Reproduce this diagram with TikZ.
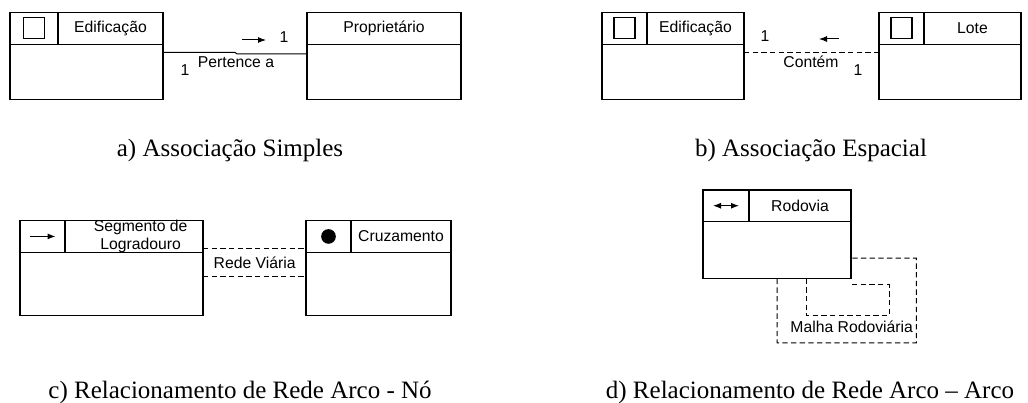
\documentclass[tikz,border=0pt]{standalone}
\usepackage{fontspec}
\setmainfont{Liberation Serif}
\newfontfamily\arialfont{Liberation Sans}
\usetikzlibrary{arrows.meta,positioning}

\begin{document}
\begin{tikzpicture}
  [x=0.75pt,y=-0.75pt,>={Latex[length=6pt,width=4.5pt]},
   every node/.style={font=\arialfont\fontsize{11.8}{13.7}\selectfont},
   cell/.style={draw,line width=0.8pt,inner sep=0pt,outer sep=0pt},
   hdr/.style={cell,minimum height=23.6pt},
   sym/.style={draw,line width=0.8pt,minimum size=15.75pt,inner sep=0pt},
   assoc/.style={line width=0.75pt},
   spatial/.style={assoc,dash pattern=on 4pt off 2.5pt},
   lbl/.style={inner sep=0pt},
   caption/.style={font=\rmfamily\fontsize{18.75}{20}\selectfont,anchor=base}]

  \useasboundingbox (0,0) rectangle (1028,403);

  % a) simple association
  \node [hdr,minimum width=36pt,anchor=north west] (a1i) at (10,12.7) {};
  \node [hdr,minimum width=78.75pt,right=0pt of a1i] (a1n) {Edificação};
  \node [cell,minimum width=114.75pt,minimum height=41.25pt,anchor=north west]
        (a1b) at (a1i.south west) {};
  \node [sym] (a1s) at (a1i) {};

  \node [hdr,minimum width=115.5pt,anchor=north west] (a2n) at (307,12.7) {Proprietário};
  \node [cell,minimum width=115.5pt,minimum height=41.25pt,below=0pt of a2n] (a2b) {};

  \draw [assoc] ([yshift=-6.2pt]a1b.north east) -- ++(72,0) -- ++(2,1.5)
    -- ([yshift=-7.35pt]a2b.north west);
  \node [lbl] (a1m) at (185,70) {1};
  \node [lbl] (a2m) at (284,37) {1};
  \node [lbl] (a1r) at (236,62) {Pertence a};
  \draw [->,assoc] (242,40) -- (266,40);

  % b) spatial association
  \node [hdr,minimum width=33.75pt,anchor=north west] (b1i) at (602,12.7) {};
  \node [hdr,minimum width=72.75pt,right=0pt of b1i] (b1n) {Edificação};
  \node [cell,minimum width=106.5pt,minimum height=41.25pt,anchor=north west]
        (b1b) at (b1i.south west) {};
  \node [sym] (b1s) at (b1i) {};

  \node [hdr,minimum width=33.75pt,anchor=north west] (b2i) at (879,12.7) {};
  \node [hdr,minimum width=72.75pt,right=0pt of b2i] (b2n) {Lote};
  \node [cell,minimum width=106.5pt,minimum height=41.25pt,anchor=north west]
        (b2b) at (b2i.south west) {};
  \node [sym] (b2s) at (b2i) {};

  \draw [spatial] ([yshift=-6.2pt]b1b.north east) -- ([yshift=-6.2pt]b2b.north west);
  \node [lbl] (b1m) at (765,36) {1};
  \node [lbl] (b2m) at (858,70) {1};
  \node [lbl] (b1r) at (811,62) {Contém};
  \draw [<-,assoc] (819,39) -- (839,39);

  % c) arc - node network
  \node [hdr,minimum width=33.75pt,anchor=north west] (c1i) at (20,220.7) {};
  \node [hdr,minimum width=103.5pt,right=0pt of c1i,
         label={[lbl,align=center,xshift=5pt]center:Segmento de\\Logradouro}] (c1n) {};
  \node [cell,minimum width=137.25pt,minimum height=47.5pt,anchor=north west]
        (c1b) at (c1i.south west) {};
  \draw [->,assoc] ([xshift=-9.75pt]c1i.center) -- ([xshift=9.75pt]c1i.center);

  \node [hdr,minimum width=33.75pt,anchor=north west] (c2i) at (306,220.7) {};
  \node [hdr,minimum width=75pt,right=0pt of c2i] (c2n) {Cruzamento};
  \node [cell,minimum width=108.75pt,minimum height=47.5pt,anchor=north west]
        (c2b) at (c2i.south west) {};
  \node [circle,fill,minimum size=11pt,inner sep=0pt] (c2s) at (c2i) {};

  \draw [spatial] ([yshift=2.5pt]c1n.south east) -- ([yshift=2.5pt]c2i.south west);
  \draw [spatial] ([yshift=-18.3pt]c1b.north east) -- ([yshift=-18.3pt]c2b.north west);
  \node [lbl] (c1r) at (254.7,262.7) {Rede Viária};

  % d) arc - arc network
  \node [hdr,minimum width=34.5pt,anchor=north west] (di) at (703,190) {};
  \node [hdr,minimum width=76.5pt,right=0pt of di] (dn) {Rodovia};
  \node [cell,minimum width=111pt,minimum height=43pt,anchor=north west]
        (db) at (di.south west) {};
  \draw [<->,assoc] ([xshift=-9.75pt]di.center) -- ([xshift=9.75pt]di.center);

  \draw [spatial] (db.south) -- ++(0,64) -- ++(139.3,0) -- ++(0,-84.7)
    -- ([yshift=15.5pt]db.south east);
  \draw [spatial] ([xshift=21.75pt]db.south) -- ++(0,36.7) -- ++(83,0)
    -- ++(0,-30.7) -- ++(-38.3,0);
  \node [lbl] (dr) at (851.7,326.7) {Malha Rodoviária};

  % captions
  \node [caption] (capa) at (230,156) {a) Associação Simples};
  \node [caption] (capb) at (811,156) {b) Associação Espacial};
  \node [caption] (capc) at (240,398) {c) Relacionamento de Rede Arco - Nó};
  \node [caption] (capd) at (810,398) {d) Relacionamento de Rede Arco – Arco};

\end{tikzpicture}
\end{document}
